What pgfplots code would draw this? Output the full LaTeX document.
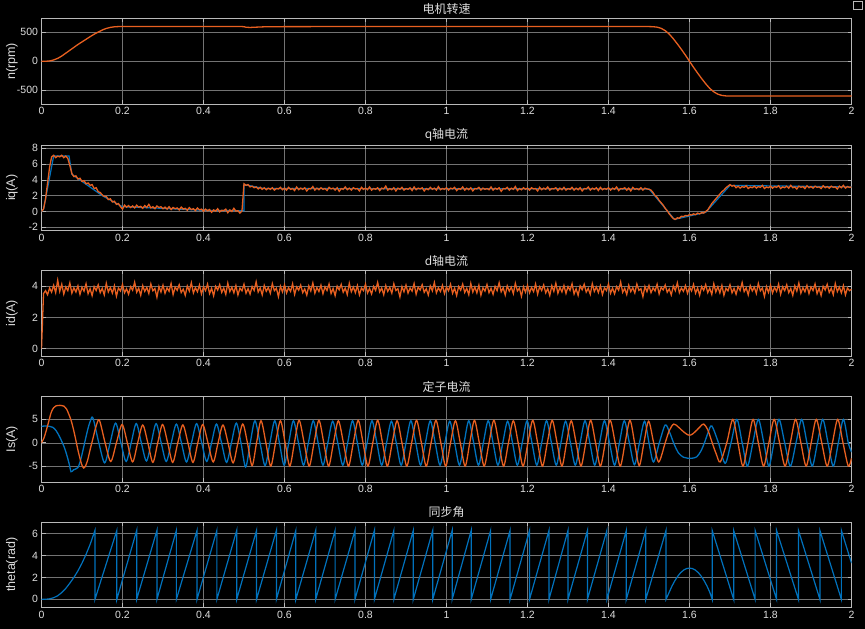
\documentclass[border=0pt]{standalone}
\usepackage{fontspec}
\setmainfont{Liberation Sans}
\newfontfamily\cjk{Noto Sans CJK SC}
\usepackage{pgfplots}
\pgfplotsset{compat=1.18}
\definecolor{morange}{RGB}{232,96,32}
\definecolor{mblue}{RGB}{0,114,189}
\definecolor{gridc}{RGB}{115,115,115}
\definecolor{boxc}{RGB}{185,185,185}
\definecolor{txtc}{RGB}{222,222,222}
\pgfplotsset{
  scope/.style={
    scale only axis, width=810pt, height=85.5pt, anchor=south west,
    xmin=0, xmax=2, xtick={0,0.2,0.4,0.6,0.8,1,1.2,1.4,1.6,1.8,2},
    axis line style={boxc, line width=0.6pt},
    grid=major, major grid style={gridc, line width=0.5pt},
    tick align=inside, major tick length=4pt, tick style={boxc, line width=0.6pt},
    ticklabel style={text=txtc, font=\fontsize{10.5}{12}\selectfont},
    /pgf/number format/assume math mode=true,
    xticklabel style={/pgf/number format/fixed, /pgf/number format/precision=1},
    every axis title/.style={text=txtc, font=\cjk\fontsize{12}{14}\selectfont, at={(0.5,1)}, anchor=south, yshift=0.5pt},
    every axis y label/.style={at={(axis description cs:-0.0364,0.5)}, rotate=90, anchor=center, text=txtc, font=\fontsize{12.5}{14}\selectfont},
  }
}
\begin{document}
\begin{tikzpicture}
\path[use as bounding box, fill=black] (0,0) rectangle (865pt,629pt);
\draw[boxc, line width=0.5pt] (853pt,620pt) rectangle (862pt,628pt);
% ---------------- speed
\begin{axis}[scope, at={(41.5pt,525pt)}, ymin=-740, ymax=740, ytick={-500,0,500},
  title={电机转速}, ylabel={n(rpm)}]
\addplot[morange, line width=1.3pt] coordinates {
(0,0) (0.01,0) (0.02,5) (0.03,22) (0.04,50) (0.05,90) (0.06,140) (0.07,190) (0.08,240) (0.09,290) (0.10,335) (0.11,380) (0.12,425) (0.13,468) (0.14,505) (0.15,540) (0.16,568) (0.17,586) (0.18,596) (0.19,600) (0.2,601) (0.3,600) (0.4,600) (0.495,600) (0.5,598) (0.505,588) (0.515,585) (0.53,590) (0.55,596) (0.6,599) (0.7,600) (1.5,600) (1.51,598) (1.52,590) (1.53,570) (1.54,530) (1.55,470) (1.56,390) (1.57,300) (1.58,205) (1.59,105) (1.60,0) (1.61,-105) (1.62,-205) (1.63,-300) (1.64,-390) (1.65,-470) (1.66,-530) (1.67,-570) (1.68,-592) (1.69,-600) (1.70,-603) (1.8,-600) (2,-600)
};
\end{axis}
% ---------------- iq
\begin{axis}[scope, at={(41.5pt,398.5pt)}, ymin=-2.4, ymax=8.4, ytick={-2,0,2,4,6,8},
  title={q轴电流}, ylabel={iq(A)}]
\addplot[mblue, line width=1.2pt] coordinates {
(0,0) (0.005,0.3) (0.01,1.6) (0.03,7.0) (0.068,7.0) (0.075,4.7) (0.1,3.8) (0.15,2.0) (0.2,0.6) (0.3,0.4) (0.4,0.15) (0.5,0.1) (0.5,3.4) (0.55,2.9) (1.5,2.85) (1.563,-1.0) (1.64,-0.1) (1.7,3.3) (2,3.1)
};
\addplot[morange, line width=1.3pt] table[row sep=\\, header=false, x expr=\coordindex*0.005, y index=0] {
0\\ 0.3\\ 1.6\\ 3.6\\ 5.6\\ 6.9\\ 7.1\\ 6.8\\ 7.0\\ 6.9\\ 7.1\\ 6.8\\ 7.0\\ 6.7\\ 5.8\\ 4.8\\ 4.4\\ 4.5\\ 4.1\\ 4.2\\
3.8\\ 3.9\\ 3.5\\ 3.6\\ 3.3\\ 3.4\\ 2.9\\ 3.0\\ 2.5\\ 2.4\\ 2.1\\ 1.9\\ 1.9\\ 1.5\\ 1.6\\ 1.2\\ 1.3\\ 0.9\\ 1.0\\ 0.6\\
0.3\\ 0.8\\ 0.55\\ 0.75\\ 0.5\\ 0.7\\ 0.45\\ 0.8\\ 0.55\\ 0.65\\ 0.4\\ 0.75\\ 0.5\\ 0.9\\ 0.45\\ 0.6\\ 0.35\\ 0.7\\ 0.5\\ 0.6\\
0.35\\ 0.55\\ 0.3\\ 0.6\\ 0.25\\ 0.5\\ 0.35\\ 0.45\\ 0.2\\ 0.55\\ 0.3\\ 0.4\\ 0.15\\ 0.5\\ 0.25\\ 0.35\\ 0.1\\ 0.45\\ 0.2\\ 0.3\\
0.05\\ 0.3\\ 0.1\\ 0.25\\ -0.1\\ 0.2\\ 0.05\\ 0.35\\ -0.05\\ 0.15\\ 0.1\\ 0.3\\ -0.15\\ 0.2\\ 0.0\\ 0.4\\ 0.05\\ 0.1\\ -0.2\\ 0.05\\
3.5\\ 3.3\\ 3.4\\ 3.1\\ 3.2\\ 3.0\\ 3.1\\ 2.85\\ 3.05\\ 2.8\\ 3.0\\ 2.75\\ 2.95\\ 2.8\\ 3.0\\ 2.7\\ 2.9\\ 2.85\\ 3.05\\ 2.75\\
2.95\\ 2.7\\ 3.05\\ 2.8\\ 2.9\\ 2.65\\ 3.1\\ 2.75\\ 2.95\\ 2.8\\ 3.0\\ 2.6\\ 2.9\\ 2.85\\ 3.15\\ 2.7\\ 2.95\\ 2.75\\ 3.0\\ 2.8\\
2.9\\ 2.65\\ 3.05\\ 2.85\\ 2.95\\ 2.7\\ 3.0\\ 2.55\\ 2.9\\ 2.8\\ 3.1\\ 2.75\\ 2.95\\ 2.7\\ 3.0\\ 2.85\\ 2.9\\ 2.6\\ 3.05\\ 2.8\\
2.95\\ 2.75\\ 3.1\\ 2.7\\ 2.9\\ 2.8\\ 3.0\\ 2.65\\ 2.95\\ 2.85\\ 3.2\\ 2.7\\ 2.9\\ 2.75\\ 3.0\\ 2.6\\ 2.95\\ 2.8\\ 3.05\\ 2.7\\
2.9\\ 2.8\\ 3.0\\ 2.65\\ 3.1\\ 2.75\\ 2.95\\ 2.85\\ 3.0\\ 2.6\\ 2.9\\ 2.75\\ 3.05\\ 2.8\\ 2.95\\ 2.7\\ 3.15\\ 2.75\\ 2.9\\ 2.8\\
3.0\\ 2.7\\ 2.95\\ 2.85\\ 3.05\\ 2.65\\ 2.9\\ 2.8\\ 3.1\\ 2.7\\ 2.95\\ 2.75\\ 3.0\\ 2.6\\ 2.9\\ 2.85\\ 3.05\\ 2.7\\ 2.95\\ 2.8\\
2.9\\ 2.75\\ 3.1\\ 2.7\\ 2.95\\ 2.8\\ 3.0\\ 2.55\\ 2.9\\ 2.85\\ 3.05\\ 2.7\\ 2.95\\ 2.8\\ 3.15\\ 2.65\\ 2.9\\ 2.75\\ 3.0\\ 2.8\\
2.95\\ 2.7\\ 3.0\\ 2.85\\ 2.9\\ 2.6\\ 3.05\\ 2.75\\ 2.95\\ 2.8\\ 3.1\\ 2.7\\ 2.9\\ 2.85\\ 3.0\\ 2.65\\ 2.95\\ 2.75\\ 3.05\\ 2.7\\
2.9\\ 2.8\\ 3.05\\ 2.7\\ 2.95\\ 2.75\\ 3.0\\ 2.6\\ 2.9\\ 2.85\\ 3.1\\ 2.7\\ 2.95\\ 2.8\\ 3.0\\ 2.65\\ 3.05\\ 2.75\\ 2.9\\ 2.8\\
3.0\\ 2.7\\ 2.95\\ 2.8\\ 3.1\\ 2.65\\ 2.9\\ 2.85\\ 3.0\\ 2.7\\ 2.95\\ 2.6\\ 3.05\\ 2.8\\ 2.9\\ 2.75\\ 3.0\\ 2.7\\ 2.95\\ 2.85\\
2.8\\ 2.7\\ 2.4\\ 2.0\\ 1.8\\ 1.4\\ 1.1\\ 0.8\\ 0.4\\ 0.1\\ -0.3\\ -0.6\\ -0.9\\ -1.0\\ -0.8\\ -0.85\\ -0.6\\ -0.65\\ -0.5\\ -0.55\\
-0.4\\ -0.45\\ -0.3\\ -0.4\\ -0.2\\ -0.3\\ -0.15\\ -0.2\\ 0.0\\ 0.2\\ 0.6\\ 1.0\\ 1.3\\ 1.6\\ 1.9\\ 2.2\\ 2.5\\ 2.7\\ 3.0\\ 3.2\\
3.4\\ 3.2\\ 3.3\\ 3.0\\ 3.2\\ 2.95\\ 3.15\\ 3.05\\ 3.25\\ 2.9\\ 3.1\\ 3.0\\ 3.2\\ 2.95\\ 3.15\\ 3.05\\ 3.3\\ 2.9\\ 3.1\\ 3.0\\
3.2\\ 2.95\\ 3.15\\ 3.05\\ 3.25\\ 2.9\\ 3.1\\ 3.0\\ 3.2\\ 2.95\\ 3.3\\ 3.0\\ 3.1\\ 2.85\\ 3.2\\ 3.05\\ 3.15\\ 2.9\\ 3.25\\ 3.0\\
3.15\\ 2.95\\ 3.2\\ 3.05\\ 3.1\\ 2.9\\ 3.25\\ 3.0\\ 3.15\\ 2.95\\ 3.2\\ 3.05\\ 3.1\\ 2.85\\ 3.2\\ 3.0\\ 3.3\\ 2.95\\ 3.15\\ 3.05\\
3.1\\
};
\end{axis}
% ---------------- id
\begin{axis}[scope, at={(41.5pt,273pt)}, ymin=-0.47, ymax=5.0, ytick={0,2,4},
  title={d轴电流}, ylabel={id(A)}]
\addplot[morange, line width=1.3pt] table[row sep=\\, header=false, x expr=\coordindex*0.005, y index=0] {
0\\ 3.52\\ 3.71\\ 3.45\\ 3.88\\ 3.62\\ 4.05\\ 3.58\\ 4.38\\ 3.66\\ 4.12\\ 3.49\\ 3.95\\ 3.71\\ 4.21\\ 3.55\\ 3.89\\ 3.62\\ 4.02\\ 3.47\\
3.93\\ 3.68\\ 4.15\\ 3.51\\ 3.84\\ 3.39\\ 3.97\\ 3.72\\ 4.08\\ 3.58\\ 3.86\\ 3.44\\ 4.18\\ 3.63\\ 3.91\\ 3.55\\ 4.02\\ 3.36\\ 3.88\\ 3.69\\
4.11\\ 3.57\\ 3.83\\ 3.48\\ 3.96\\ 3.74\\ 4.25\\ 3.61\\ 3.87\\ 3.42\\ 4.03\\ 3.66\\ 3.92\\ 3.53\\ 4.14\\ 3.70\\ 3.85\\ 3.29\\ 3.98\\ 3.62\\
4.06\\ 3.54\\ 3.89\\ 3.67\\ 4.17\\ 3.46\\ 3.94\\ 3.73\\ 4.09\\ 3.59\\ 3.81\\ 3.41\\ 4.01\\ 3.68\\ 4.22\\ 3.56\\ 3.90\\ 3.64\\ 4.07\\ 3.50\\
3.95\\ 3.71\\ 4.13\\ 3.52\\ 3.86\\ 3.38\\ 3.99\\ 3.75\\ 4.10\\ 3.60\\ 3.88\\ 3.47\\ 4.19\\ 3.65\\ 3.93\\ 3.57\\ 4.04\\ 3.43\\ 3.87\\ 3.70\\
4.12\\ 3.55\\ 3.84\\ 3.49\\ 3.97\\ 3.72\\ 4.28\\ 3.62\\ 3.89\\ 3.44\\ 4.05\\ 3.67\\ 3.91\\ 3.54\\ 4.16\\ 3.71\\ 3.86\\ 3.33\\ 3.99\\ 3.63\\
4.08\\ 3.56\\ 3.90\\ 3.66\\ 4.15\\ 3.47\\ 3.95\\ 3.74\\ 4.07\\ 3.58\\ 3.82\\ 3.42\\ 4.02\\ 3.69\\ 4.20\\ 3.55\\ 3.91\\ 3.65\\ 4.06\\ 3.51\\
3.96\\ 3.72\\ 4.14\\ 3.53\\ 3.85\\ 3.39\\ 4.00\\ 3.76\\ 4.11\\ 3.61\\ 3.87\\ 3.46\\ 4.18\\ 3.64\\ 3.94\\ 3.58\\ 4.03\\ 3.44\\ 3.88\\ 3.71\\
4.13\\ 3.56\\ 3.85\\ 3.50\\ 3.98\\ 3.73\\ 4.24\\ 3.63\\ 3.88\\ 3.45\\ 4.04\\ 3.66\\ 3.92\\ 3.55\\ 4.15\\ 3.72\\ 3.84\\ 3.31\\ 3.97\\ 3.64\\
4.07\\ 3.55\\ 3.88\\ 3.68\\ 4.16\\ 3.48\\ 3.93\\ 3.75\\ 4.09\\ 3.60\\ 3.83\\ 3.43\\ 4.01\\ 3.70\\ 4.23\\ 3.57\\ 3.89\\ 3.66\\ 4.05\\ 3.52\\
3.94\\ 3.70\\ 4.12\\ 3.54\\ 3.87\\ 3.40\\ 3.98\\ 3.74\\ 4.13\\ 3.59\\ 3.86\\ 3.45\\ 4.17\\ 3.62\\ 3.95\\ 3.56\\ 4.06\\ 3.42\\ 3.90\\ 3.68\\
4.10\\ 3.58\\ 3.86\\ 3.47\\ 3.99\\ 3.71\\ 4.22\\ 3.64\\ 3.90\\ 3.43\\ 4.02\\ 3.68\\ 3.93\\ 3.52\\ 4.18\\ 3.69\\ 3.87\\ 3.35\\ 3.96\\ 3.61\\
4.05\\ 3.57\\ 3.91\\ 3.65\\ 4.14\\ 3.49\\ 3.96\\ 3.72\\ 4.08\\ 3.57\\ 3.84\\ 3.40\\ 4.03\\ 3.67\\ 4.19\\ 3.54\\ 3.92\\ 3.63\\ 4.04\\ 3.53\\
3.97\\ 3.73\\ 4.15\\ 3.50\\ 3.83\\ 3.41\\ 4.01\\ 3.77\\ 4.12\\ 3.62\\ 3.85\\ 3.48\\ 4.16\\ 3.66\\ 3.95\\ 3.59\\ 4.02\\ 3.46\\ 3.89\\ 3.72\\
4.14\\ 3.54\\ 3.87\\ 3.51\\ 3.97\\ 3.74\\ 4.26\\ 3.60\\ 3.86\\ 3.46\\ 4.06\\ 3.65\\ 3.90\\ 3.56\\ 4.13\\ 3.73\\ 3.83\\ 3.32\\ 3.98\\ 3.65\\
4.04\\ 3.58\\ 3.89\\ 3.69\\ 4.12\\ 3.50\\ 3.92\\ 3.76\\ 4.07\\ 3.61\\ 3.82\\ 3.44\\ 4.00\\ 3.71\\ 4.21\\ 3.58\\ 3.88\\ 3.67\\ 4.03\\ 3.54\\
3.93\\ 3.69\\ 4.11\\ 3.55\\ 3.88\\ 3.42\\ 3.97\\ 3.73\\ 4.10\\ 3.58\\ 3.87\\ 3.47\\ 4.15\\ 3.63\\ 3.96\\ 3.57\\ 4.05\\ 3.41\\ 3.86\\ 3.70\\
4.09\\ 3.57\\ 3.85\\ 3.48\\ 3.98\\ 3.72\\ 4.23\\ 3.65\\ 3.89\\ 3.44\\ 4.03\\ 3.69\\ 3.94\\ 3.53\\ 4.17\\ 3.70\\ 3.88\\ 3.34\\ 3.97\\ 3.60\\
4.06\\ 3.56\\ 3.92\\ 3.66\\ 4.13\\ 3.48\\ 3.95\\ 3.71\\ 4.09\\ 3.58\\ 3.85\\ 3.41\\ 4.02\\ 3.68\\ 4.20\\ 3.55\\ 3.90\\ 3.64\\ 4.05\\ 3.52\\
3.95\\ 3.72\\ 4.14\\ 3.52\\ 3.86\\ 3.40\\ 3.99\\ 3.75\\ 4.11\\ 3.60\\ 3.86\\ 3.45\\ 4.17\\ 3.65\\ 3.94\\ 3.57\\ 4.03\\ 3.44\\ 3.88\\ 3.71\\
3.80\\
};
\end{axis}
% ---------------- stator current
\begin{axis}[scope, at={(41.5pt,147pt)}, ymin=-8.4, ymax=9.9, ytick={-5,0,5},
  title={定子电流}, ylabel={Is(A)}]
\addplot[mblue, line width=1.3pt, smooth] coordinates {
(0,3.5) (0.01,3.6) (0.02,3.5) (0.028,3.3) (0.036,2.6) (0.044,1.4) (0.05,0.3) (0.056,-0.9) (0.062,-2.5) (0.068,-4.4) (0.073,-6.2) (0.079,-5.8) (0.085,-5.6) (0.09,-5.3) (0.095,-4.2) (0.100,-2.5) (0.105,-0.6) (0.110,1.3) (0.115,3.1) (0.120,4.5) (0.127,5.3)
(0.1415,0) (0.156,-4.3) (0.1695,0) (0.183,4.2) (0.196,0) (0.209,-4.0) (0.2215,0) (0.234,4.1) (0.2465,0) (0.259,-3.9) (0.271,0) (0.283,4.1) (0.2955,0) (0.308,-4.0) (0.3205,0) (0.333,4.0) (0.3455,0) (0.358,-4.1) (0.3705,0) (0.383,4.1) (0.3955,0) (0.408,-4.0) (0.42,0) (0.432,4.0) (0.4445,0) (0.457,-4.2) (0.469,0) (0.481,4.2) (0.4925,0) (0.504,-5.2) (0.5155,0) (0.527,4.7) (0.5395,0) (0.552,-4.9) (0.564,0) (0.576,4.7) (0.5875,0) (0.599,-4.8) (0.6105,0) (0.622,4.7) (0.6345,0) (0.647,-4.8) (0.659,0) (0.671,4.7) (0.683,0) (0.695,-4.8) (0.707,0) (0.719,4.6) (0.7315,0) (0.744,-4.8) (0.756,0) (0.768,4.7) (0.78,0) (0.792,-4.8) (0.804,0) (0.816,4.7) (0.828,0) (0.840,-4.8) (0.852,0) (0.864,4.6) (0.876,0) (0.888,-4.8) (0.9,0) (0.912,4.7) (0.924,0) (0.936,-4.8) (0.948,0) (0.960,4.7) (0.972,0) (0.984,-4.8) (0.996,0) (1.008,4.6) (1.02,0) (1.032,-4.8) (1.0435,0) (1.055,4.7) (1.067,0) (1.079,-4.8) (1.091,0) (1.103,4.7) (1.115,0) (1.127,-4.8) (1.139,0) (1.151,4.6) (1.163,0) (1.175,-4.8) (1.187,0) (1.199,4.7) (1.211,0) (1.223,-4.8) (1.235,0) (1.247,4.7) (1.259,0) (1.271,-4.8) (1.2825,0) (1.294,4.6) (1.306,0) (1.318,-4.8) (1.33,0) (1.342,4.7) (1.354,0) (1.366,-4.8) (1.378,0) (1.390,4.7) (1.4025,0) (1.415,-4.8) (1.427,0) (1.439,4.7) (1.4515,0) (1.464,-4.7) (1.4765,0) (1.489,4.6) (1.5,0) (1.511,-4.1) (1.5255,0) (1.540,3.8) (1.551,2.2) (1.562,-0.3) (1.573,-2.2) (1.585,-3.1) (1.595,-3.3) (1.607,-3.3) (1.618,-3.0) (1.628,-1.8) (1.637,0.0) (1.646,2.2) (1.655,3.6) (1.6715,0) (1.688,-4.4) (1.7025,0) (1.717,5.0) (1.730,0) (1.743,-5.0) (1.7565,0) (1.770,5.0) (1.7835,0) (1.796,-5.0) (1.8085,0) (1.821,5.0) (1.835,0) (1.849,-5.0) (1.863,0) (1.877,5.0) (1.89,0) (1.903,-5.0) (1.916,0) (1.929,5.0) (1.942,0) (1.955,-5.0) (1.9675,0) (1.980,5.0) (1.992,0) (2.0,-2.0)
};
\addplot[morange, line width=1.3pt, smooth] coordinates {
(0,0) (0.006,1.0) (0.012,2.7) (0.018,4.6) (0.024,6.5) (0.03,7.5) (0.036,7.9) (0.046,8.0) (0.056,7.8) (0.062,7.2) (0.068,6.0) (0.073,4.8) (0.078,3.2) (0.084,0.9) (0.089,-1.2) (0.094,-3.0) (0.099,-4.6) (0.104,-5.4) (0.109,-4.9) (0.114,-3.7) (0.12,-1.5) (0.127,0.9) (0.135,3.6) (0.143,4.8)
(0.157,0) (0.171,-4.0) (0.185,0) (0.199,3.9) (0.212,0) (0.225,-4.1) (0.2375,0) (0.250,3.8) (0.2625,0) (0.275,-4.2) (0.287,0) (0.299,3.9) (0.3115,0) (0.324,-4.2) (0.3365,0) (0.349,3.8) (0.3615,0) (0.374,-4.2) (0.386,0) (0.398,3.9) (0.411,0) (0.424,-4.1) (0.436,0) (0.448,3.8) (0.4605,0) (0.473,-4.3) (0.485,0) (0.497,4.0) (0.5085,0) (0.520,-4.9) (0.531,0) (0.542,4.7) (0.554,0) (0.566,-5.0) (0.578,0) (0.590,4.7) (0.6015,0) (0.613,-5.0) (0.6245,0) (0.636,4.8) (0.6485,0) (0.661,-5.0) (0.673,0) (0.685,4.8) (0.697,0) (0.709,-5.0) (0.721,0) (0.733,4.7) (0.7455,0) (0.758,-5.0) (0.77,0) (0.782,4.8) (0.794,0) (0.806,-5.0) (0.818,0) (0.830,4.8) (0.842,0) (0.854,-5.0) (0.866,0) (0.878,4.7) (0.89,0) (0.902,-5.0) (0.914,0) (0.926,4.8) (0.938,0) (0.950,-5.0) (0.962,0) (0.974,4.8) (0.986,0) (0.998,-5.0) (1.01,0) (1.022,4.7) (1.034,0) (1.046,-5.0) (1.0575,0) (1.069,4.8) (1.081,0) (1.093,-5.0) (1.105,0) (1.117,4.8) (1.129,0) (1.141,-5.0) (1.153,0) (1.165,4.7) (1.177,0) (1.189,-5.0) (1.201,0) (1.213,4.8) (1.225,0) (1.237,-5.0) (1.249,0) (1.261,4.8) (1.273,0) (1.285,-5.0) (1.2965,0) (1.308,4.7) (1.32,0) (1.332,-5.0) (1.344,0) (1.356,4.8) (1.368,0) (1.380,-5.0) (1.392,0) (1.404,4.8) (1.4165,0) (1.429,-5.0) (1.441,0) (1.453,4.8) (1.4645,0) (1.476,-4.9) (1.4875,0) (1.499,4.6) (1.5115,0) (1.524,-4.1) (1.540,0) (1.550,2.6) (1.561,4.0) (1.572,3.4) (1.582,2.6) (1.592,1.9) (1.600,1.6) (1.608,1.9) (1.618,2.7) (1.627,3.5) (1.635,4.0) (1.645,2.8) (1.656,0) (1.666,-2.4) (1.676,-4.1) (1.692,0) (1.707,5.0) (1.7195,0) (1.732,-5.0) (1.7445,0) (1.757,5.0) (1.770,0) (1.783,-5.0) (1.796,0) (1.809,5.0) (1.8225,0) (1.836,-5.0) (1.849,0) (1.862,5.0) (1.875,0) (1.888,-5.0) (1.9005,0) (1.913,5.0) (1.9265,0) (1.940,-5.0) (1.953,0) (1.966,5.0) (1.979,0) (1.992,-5.0) (2.0,-3.3)
};
\end{axis}
% ---------------- theta
\begin{axis}[scope, at={(41.5pt,21.5pt)}, ymin=-0.74, ymax=7.05, ytick={0,2,4,6},
  title={同步角}, ylabel={theta(rad)}]
\addplot[mblue, line width=1.2pt] coordinates {
(0,0) (0.01,0.01) (0.02,0.05) (0.03,0.15) (0.04,0.33) (0.05,0.62) (0.06,1.0) (0.07,1.48) (0.08,2.0) (0.09,2.6) (0.10,3.3) (0.11,4.1) (0.12,5.0) (0.132,6.28)
(0.132,0) (0.186,6.28) (0.186,0) (0.235,6.28) (0.235,0) (0.285,6.28) (0.285,0) (0.333,6.28) (0.333,0) (0.384,6.28) (0.384,0) (0.433,6.28) (0.433,0) (0.482,6.28) (0.482,0) (0.531,6.28) (0.531,0) (0.580,6.28) (0.580,0) (0.628,6.28) (0.628,0) (0.677,6.28) (0.677,0) (0.725,6.28) (0.725,0) (0.774,6.28) (0.774,0) (0.822,6.28) (0.822,0) (0.870,6.28) (0.870,0) (0.918,6.28) (0.918,0) (0.966,6.28) (0.966,0) (1.014,6.28) (1.014,0) (1.061,6.28) (1.061,0) (1.109,6.28) (1.109,0) (1.157,6.28) (1.157,0) (1.205,6.28) (1.205,0) (1.253,6.28) (1.253,0) (1.300,6.28) (1.300,0) (1.348,6.28) (1.348,0) (1.396,6.28) (1.396,0) (1.444,6.28) (1.444,0) (1.492,6.28) (1.492,0) (1.542,6.28) (1.542,0)
(1.550,0.66) (1.557,1.23) (1.564,1.71) (1.571,2.11) (1.578,2.43) (1.586,2.68) (1.593,2.81) (1.600,2.85) (1.607,2.81) (1.614,2.68) (1.622,2.43) (1.629,2.11) (1.636,1.71) (1.643,1.23) (1.650,0.66) (1.656,0)
(1.656,6.28) (1.709,0) (1.709,6.28) (1.762,0) (1.762,6.28) (1.815,0) (1.815,6.28) (1.869,0) (1.869,6.28) (1.922,0) (1.922,6.28) (1.975,0) (1.975,6.28) (2.0,3.3)
};
\end{axis}
\end{tikzpicture}
\end{document}
